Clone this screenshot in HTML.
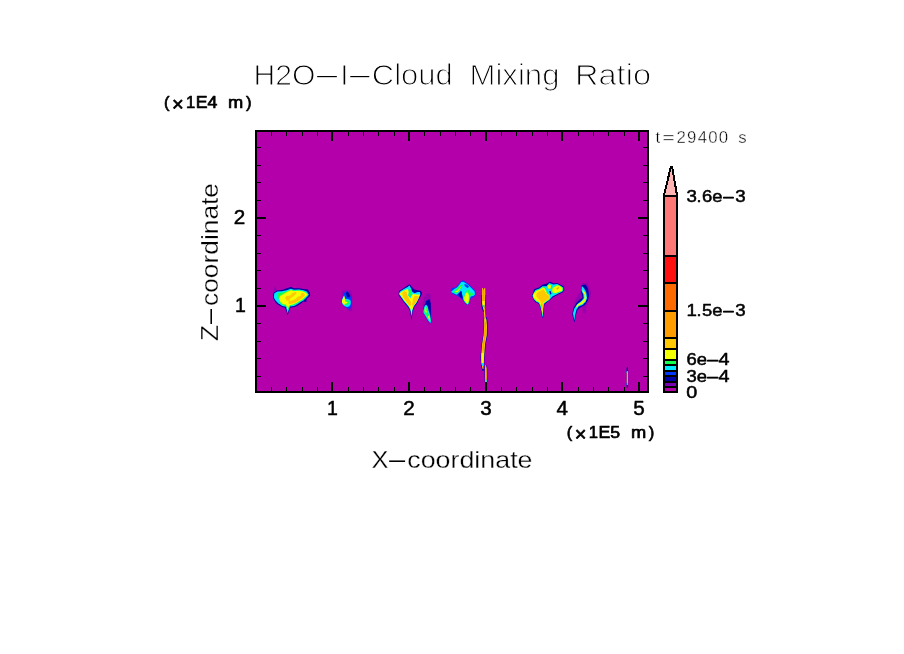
<!DOCTYPE html>
<html><head><meta charset="utf-8"><title>H2O-I-Cloud Mixing Ratio</title>
<style>
html,body{margin:0;padding:0;background:#fff;width:904px;height:654px;overflow:hidden}
svg{display:block;font-family:'Liberation Sans', sans-serif;fill:#000}
text{paint-order:fill stroke;stroke-linejoin:round}
</style></head><body>
<svg width="904" height="654" viewBox="0 0 904 654">
<rect x="0" y="0" width="904" height="654" fill="#fff"/>
<g shape-rendering="crispEdges">
<rect x="255" y="130" width="394" height="263" fill="#000"/>
<rect x="257" y="132" width="390" height="259" fill="#b400aa"/>
</g>
<g id="clouds">
<polygon fill="#7a00b4" fill-opacity="0.5" points="273.3,291.1 274.1,287.2 275.7,287.2 276.8,290.5"/>
<polygon fill="#0000a8" points="273.0,296.6 273.8,292.4 276.8,290.5 281.8,290.0 286.8,288.3 290.7,286.9 294.0,288.3 299.0,288.3 303.4,289.1 307.8,289.4 310.0,292.7 310.0,296.0 306.7,298.8 306.2,302.1 303.4,301.6 301.2,303.2 297.9,305.4 294.5,307.1 290.1,307.7 289.0,311.0 287.6,315.4 286.3,311.0 285.1,307.7 281.8,307.1 277.4,304.3 275.2,302.1 273.5,298.8"/>
<polygon fill="#00eaff" points="273.8,296.6 274.4,293.3 277.4,291.6 281.8,291.3 286.8,290.2 290.7,288.8 294.0,289.7 299.0,289.5 303.4,290.2 306.7,291.6 308.9,294.7 306.2,297.7 303.4,300.5 300.6,302.1 297.3,304.3 294.0,306.0 290.1,306.5 288.7,309.9 287.6,313.2 286.8,309.9 286.0,306.8 282.4,306.0 278.5,303.5 276.0,301.0 274.4,298.8"/>
<polygon fill="#14ff50" points="277.1,296.6 277.4,293.3 281.8,292.4 286.8,291.3 290.7,289.7 294.0,290.5 299.0,290.2 303.4,291.1 306.2,292.4 308.1,294.7 305.6,297.1 302.8,299.9 300.1,301.6 296.8,303.5 293.4,305.2 289.8,305.7 288.5,308.8 287.5,311.5 286.8,308.8 286.3,306.0 282.9,305.2 279.9,302.7 279.1,299.4"/>
<polygon fill="#f4ff00" points="279.1,298.8 279.9,296.0 281.8,294.9 286.8,291.9 290.7,290.2 294.0,291.1 299.0,290.8 303.4,291.6 306.2,293.0 307.5,294.7 305.1,296.9 302.3,299.4 299.5,301.0 296.2,303.0 292.9,304.6 289.6,305.2 288.2,307.7 287.4,309.9 286.8,306.5 285.7,304.6 282.9,304.3 280.4,302.1"/>
<polygon fill="#ffc800" points="285.1,297.7 286.3,296.0 290.1,295.5 292.3,293.0 295.7,291.9 296.8,293.3 294.5,295.5 292.3,297.1 290.1,298.8 289.0,301.0 286.3,300.5"/>
<polygon fill="#ffc800" points="288.5,302.1 289.0,301.0 292.3,300.5 295.7,298.8 297.9,296.6 300.6,296.0 301.2,293.3 303.4,292.7 305.1,294.9 304.0,296.6 301.2,298.8 298.4,301.0 295.1,302.7 291.8,303.8 288.7,304.3"/>
<polygon fill="#7a00b4" fill-opacity="0.5" points="342.1,290.3 350.4,290.3 352.1,294.7 352.1,311.3 349.3,311.3 347.1,309.1 343.3,305.8 341.6,302.5 341.6,296.9 342.1,293.1"/>
<polygon fill="#0038ff" points="344.1,293.1 347.1,291.1 348.8,293.1 350.4,295.8 351.8,299.1 351.5,304.1 350.4,308.0 349.6,310.8 348.2,308.5 346.0,307.4 343.3,305.2 341.9,302.5 342.1,298.6 343.8,295.8"/>
<polygon fill="#0000a8" points="346.0,293.6 347.1,291.4 348.8,293.3 350.2,295.8 349.3,297.5 347.1,296.9"/>
<polygon fill="#00eaff" points="342.1,299.7 344.1,295.3 344.9,298.6 347.1,299.1 349.3,299.7 350.7,300.8 350.7,304.1 349.3,306.3 347.1,306.9 344.9,306.3 343.0,304.7 341.9,302.5"/>
<polygon fill="#14ff50" points="344.9,300.3 348.8,300.3 349.3,303.0 348.2,304.7 346.0,305.2 344.4,304.1"/>
<polygon fill="#f4ff00" points="342.1,300.3 344.1,295.8 344.9,298.6 345.2,301.4 347.7,302.2 347.1,303.3 345.5,303.6 344.6,304.7 342.7,303.6 341.9,301.9"/>
<polygon fill="#0000a8" points="398.6,293.3 399.1,291.1 403.8,288.0 407.7,285.5 409.6,283.9 412.1,287.2 414.3,289.4 417.7,290.2 421.0,291.1 422.1,293.3 421.0,296.0 418.8,299.4 417.1,303.2 414.3,307.1 412.7,311.0 411.7,319.8 411.3,319.8 410.2,311.5 408.3,307.7 406.0,304.9 403.3,301.6 400.5,297.7 398.8,295.5"/>
<polygon fill="#00eaff" points="399.1,293.3 400.0,291.6 404.4,288.8 407.7,286.9 409.4,285.5 411.3,288.8 412.1,291.6 414.3,293.3 417.7,291.9 419.9,291.9 420.4,294.4 418.8,298.3 416.5,302.7 413.8,306.5 412.4,310.4 411.6,316.8 410.5,310.4 408.8,307.1 406.6,304.3 403.8,301.0 401.1,297.1 399.4,294.9"/>
<polygon fill="#f4ff00" points="399.4,293.8 401.1,291.9 404.9,290.0 407.7,289.1 408.8,291.1 408.3,295.5 410.5,298.3 412.1,294.9 413.2,293.8 416.5,294.4 419.9,294.4 418.5,298.3 416.3,302.4 413.5,306.0 412.1,309.9 411.5,314.6 410.6,309.3 409.1,306.5 406.9,303.8 404.1,300.5 401.3,296.6"/>
<polygon fill="#14ff50" points="408.3,289.4 409.9,288.3 411.3,291.1 411.8,293.8 409.9,297.1 408.5,296.0 409.1,292.2"/>
<polygon fill="#ffc800" points="402.2,293.3 404.4,291.1 406.6,292.2 407.7,296.0 409.4,299.4 411.0,302.1 410.7,306.0 408.8,304.9 406.6,302.1 404.4,298.8 402.7,296.0"/>
<polygon fill="#ffc800" points="412.1,304.3 413.2,298.8 414.3,296.0 417.7,296.0 418.8,296.6 417.1,300.5 414.9,303.8 413.0,306.5"/>
<polygon fill="#7a00b4" fill-opacity="0.5" points="423.8,297.2 427.1,293.3 430.4,293.9 431.0,299.4 431.5,313.8 431.0,323.2 428.2,324.3 423.3,313.2 422.7,304.4"/>
<polygon fill="#0000a8" points="426.0,301.1 429.3,299.1 430.7,303.3 431.0,312.1 431.0,323.2 429.3,322.1 427.1,318.8 424.4,314.3 423.0,311.0 424.1,306.6"/>
<polygon fill="#00eaff" points="423.3,311.0 424.4,306.6 426.0,304.4 427.7,306.6 428.8,311.0 430.2,314.9 431.0,321.0 430.4,323.2 428.2,320.4 425.5,316.0 423.5,312.7"/>
<polygon fill="#14ff50" points="424.1,311.0 424.9,307.1 426.3,306.6 427.1,309.4 428.2,313.2 429.9,316.5 430.7,321.0 429.3,319.9 427.1,316.5 424.9,313.8"/>
<polygon fill="#f4ff00" points="424.6,310.5 425.5,307.1 426.3,308.3 426.3,311.0 427.1,312.1 426.0,312.7"/>
<polygon fill="#f4ff00" points="428.0,316.0 429.3,315.4 429.9,318.2 430.2,321.0 429.1,319.3 428.2,317.7"/>
<polygon fill="#0038ff" points="450.8,290.3 451.6,288.0 455.5,287.5 458.8,284.2 461.0,281.1 463.2,280.3 466.0,282.5 468.8,284.2 471.5,286.9 475.4,290.8 475.4,295.2 473.2,297.4 471.0,298.0 469.3,301.9 467.7,305.7 465.4,303.5 462.7,300.2 459.4,296.9 456.0,295.2 452.7,294.1 451.1,292.5"/>
<polygon fill="#00eaff" points="451.3,291.4 454.4,289.1 457.1,287.5 459.4,284.7 461.3,282.0 463.2,281.7 465.4,283.1 468.5,285.3 471.2,288.0 474.6,291.4 475.0,294.4 473.2,296.1 471.0,296.3 469.9,298.5 468.5,303.5 467.4,304.6 464.9,301.9 463.2,299.1 462.1,295.2 461.0,290.8 458.8,293.0 456.6,294.7 453.8,293.3 451.6,292.5"/>
<polygon fill="#0038ff" points="464.3,283.9 466.5,284.4 469.0,286.5 467.7,288.2 466.0,287.0 464.8,285.9"/>
<polygon fill="#0000a8" points="458.3,294.1 461.3,290.8 462.4,295.8 462.7,299.1 459.9,296.9"/>
<polygon fill="#14ff50" points="453.8,291.9 456.6,289.1 459.4,285.8 461.6,284.2 462.7,285.3 461.0,288.0 458.8,291.4 456.6,293.3 454.4,293.3"/>
<polygon fill="#14ff50" points="466.0,291.9 467.7,289.1 469.3,290.3 471.0,293.0 473.2,293.6 473.7,294.7 471.5,295.2 469.9,296.3 467.7,294.1"/>
<polygon fill="#14ff50" points="463.5,297.4 465.4,293.0 467.7,291.4 469.3,295.2 469.3,301.3 467.9,304.4 465.7,302.7 463.8,300.2"/>
<polygon fill="#f4ff00" points="454.9,291.4 457.7,290.5 460.5,286.9 461.3,286.4 459.4,289.7 457.7,291.9 455.2,292.2"/>
<polygon fill="#f4ff00" points="464.3,296.9 466.0,293.0 467.7,292.2 468.8,295.2 468.8,300.8 467.7,304.1 466.0,302.4 464.3,300.2"/>
<polygon fill="#0000a8" points="531.9,295.7 533.3,291.8 534.4,289.1 538.8,287.4 542.7,284.6 547.1,283.5 549.9,281.6 553.8,283.5 557.1,283.0 561.0,284.9 563.7,286.3 564.3,290.2 562.6,292.4 559.3,294.0 556.0,295.7 552.7,297.4 550.4,299.6 547.7,301.8 544.4,304.5 543.8,309.0 543.1,317.8 542.3,317.8 540.8,310.6 539.7,305.7 538.3,303.4 535.5,302.3 533.3,299.6"/>
<polygon fill="#00eaff" points="532.5,295.7 533.8,292.4 535.5,289.9 539.4,288.5 542.7,286.3 546.6,286.3 549.3,283.0 553.2,284.6 557.1,284.1 560.4,285.7 563.2,287.4 563.4,289.9 562.1,291.8 558.7,293.2 555.4,295.1 552.7,296.3 551.0,297.9 549.3,300.1 546.6,301.8 543.8,304.0 543.3,309.0 542.9,316.7 542.4,316.7 541.3,310.6 540.2,305.7 538.8,302.9 536.1,301.5 533.8,299.3"/>
<polygon fill="#14ff50" points="532.7,295.7 534.1,292.5 535.8,290.4 539.7,289.1 542.7,286.8 544.6,287.4 546.3,290.4 547.4,293.2 549.6,294.9 550.2,297.4 549.1,299.8 546.3,301.5 543.7,303.7 543.1,308.4 542.7,316.2 541.8,310.6 540.5,305.7 539.1,302.6 536.3,301.2 534.1,299.0"/>
<polygon fill="#14ff50" points="547.1,285.7 549.3,283.8 551.5,284.9 551.3,288.2 549.3,289.6 547.6,288.5"/>
<polygon fill="#14ff50" points="552.1,288.0 555.4,285.7 557.6,284.6 560.7,286.1 562.9,288.0 562.6,291.0 559.6,292.3 556.0,293.5 552.9,293.5 551.7,291.0"/>
<polygon fill="#f4ff00" points="533.0,295.7 534.4,292.7 536.1,291.0 539.9,289.6 542.7,287.4 544.4,288.0 546.0,290.7 547.1,293.5 549.3,295.1 549.9,297.4 548.8,299.6 546.0,301.2 543.5,303.4 543.0,308.4 542.6,315.1 541.9,310.6 540.8,305.7 539.4,302.3 536.6,301.0 534.4,298.7"/>
<polygon fill="#f4ff00" points="547.7,285.7 549.3,284.4 551.0,285.2 550.7,288.0 549.3,289.1 548.0,288.2"/>
<polygon fill="#f4ff00" points="552.7,288.0 555.4,286.3 557.6,285.2 560.4,286.6 562.3,288.2 562.1,290.7 559.3,291.8 556.0,292.9 553.2,292.9 552.1,290.7"/>
<polygon fill="#ffc800" points="536.3,294.0 538.3,291.8 541.0,290.4 543.3,289.1 544.9,291.3 546.6,294.0 549.3,296.3 549.3,297.9 547.1,300.1 544.4,301.8 542.7,303.2 542.4,306.8 542.3,311.2 541.6,307.9 541.0,304.5 540.5,301.2 538.3,298.5 536.6,297.1"/>
<polygon fill="#ff9c00" points="556.0,289.1 558.2,287.1 559.3,287.7 557.6,289.6"/>
<polygon fill="#ff9c00" points="541.3,304.5 542.4,304.5 542.3,310.6 541.6,309.0"/>
<polygon fill="#0000a8" points="549.1,291.3 550.7,291.0 551.5,294.0 550.4,294.6"/>
<polygon fill="#7a00b4" fill-opacity="0.5" points="581.8,282.9 587.1,282.9 591.0,291.3 590.2,299.0 586.4,305.1 585.6,312.7 583.3,312.7 581.8,306.6 574.1,305.1 575.7,298.2 580.2,292.1"/>
<polygon fill="#0000a8" points="581.4,285.2 585.6,284.4 587.9,288.2 589.0,295.1 587.9,300.5 584.8,305.1 580.2,307.4 577.2,310.4 575.7,315.8 574.5,322.7 573.4,318.8 572.2,314.3 573.4,308.1 576.4,302.8 579.5,299.7 582.5,297.4 581.0,291.3"/>
<polygon fill="#00eaff" points="581.8,285.9 584.1,288.2 586.4,292.8 587.1,298.2 585.6,302.0 582.5,305.1 578.7,306.6 576.4,309.7 575.0,315.8 574.5,320.4 573.7,317.3 573.0,313.5 574.1,308.9 577.2,304.3 581.0,301.2 583.7,298.2 583.3,294.4 581.4,290.5"/>
<polygon fill="#f4ff00" points="582.9,289.8 585.2,292.8 586.4,297.4 585.2,301.2 582.2,303.9 578.7,305.5 576.8,307.4 576.0,306.6 578.0,303.9 581.4,302.0 584.5,298.6 584.5,294.7 582.5,291.3"/>
<polygon fill="#0000a8" points="481.4,295.0 481.0,303.0 482.1,309.0 483.1,312.0 484.1,312.0 484.7,309.0 485.8,303.0 486.0,295.0"/>
<polygon fill="#ffc800" points="482.2,288.0 482.1,296.0 482.1,303.0 482.9,307.0 483.7,310.0 484.7,310.0 484.7,307.0 485.1,303.0 485.3,296.0 485.2,288.0"/>
<polygon fill="#ff9c00" points="482.8,290.0 482.6,300.0 482.9,303.0 484.3,303.0 484.6,300.0 484.6,290.0"/>
<polygon fill="#f4ff00" points="482.4,301.0 482.5,305.0 484.5,305.0 484.6,301.0"/>
<polygon fill="#14ff50" points="482.4,305.0 482.8,307.0 484.2,307.0 484.4,305.0"/>
<polygon fill="#b400aa" points="482.9,288 484.5,288 483.7,290.5"/>
<polygon fill="#0000a8" points="484.0,317.0 483.7,320.0 483.8,326.0 483.1,335.0 481.6,344.0 480.4,357.0 481.1,366.0 482.5,371.0 483.5,371.0 484.1,366.0 484.6,357.0 485.8,344.0 487.5,335.0 487.8,326.0 487.3,320.0 486.4,317.0"/>
<polygon fill="#ffc800" points="483.6,308.0 484.3,317.0 484.1,320.0 484.2,326.0 483.6,335.0 482.1,344.0 481.1,357.0 481.5,364.0 482.6,369.0 483.4,369.0 483.7,364.0 484.1,357.0 485.1,344.0 486.8,335.0 487.0,326.0 486.5,320.0 485.5,317.0 484.6,308.0"/>
<polygon fill="#ff9c00" points="484.7,322.0 484.6,330.0 483.8,338.0 482.6,346.0 482.4,351.0 483.6,351.0 484.2,346.0 485.4,338.0 486.2,330.0 486.1,322.0"/>
<polygon fill="#f4ff00" points="481.5,353.0 481.6,363.0 483.6,363.0 483.9,353.0"/>
<polygon fill="#00eaff" points="481.7,363.0 482.1,366.0 483.3,366.0 483.5,363.0"/>
<polygon fill="#0000a8" points="484.8,365.0 484.5,368.0 484.7,381.0 485.1,383.0 486.9,383.0 487.3,381.0 487.1,368.0 486.4,365.0"/>
<polygon fill="#ffc800" points="485.3,365.0 485.0,368.0 485.2,381.0 485.6,383.0 486.4,383.0 486.8,381.0 486.6,368.0 485.9,365.0"/>
<polygon fill="#ff9c00" points="485.2,369.0 485.4,378.0 486.6,378.0 486.4,369.0"/>
<polygon fill="#00eaff" points="485.3,380.0 485.4,382.0 486.6,382.0 486.7,380.0"/>
<polygon fill="#0000a8" points="626.9,367.0 626.5,370.0 626.5,385.0 626.9,388.0 627.7,388.0 628.1,385.0 628.1,370.0 627.7,367.0"/>
<polygon fill="#ffc800" points="626.7,372.0 626.7,383.0 627.9,383.0 627.9,372.0"/>
<polygon fill="#00eaff" points="626.7,371.0 626.7,373.0 627.9,373.0 627.9,371.0"/>
<polygon fill="#00eaff" points="626.7,383.0 626.7,385.0 627.9,385.0 627.9,383.0"/>
</g>
<g id="ticks" shape-rendering="crispEdges">
<rect x="271" y="132" width="1" height="4" fill="#000"/>
<rect x="271" y="387" width="1" height="4" fill="#000"/>
<rect x="286" y="132" width="1" height="4" fill="#000"/>
<rect x="286" y="387" width="1" height="4" fill="#000"/>
<rect x="302" y="132" width="1" height="4" fill="#000"/>
<rect x="302" y="387" width="1" height="4" fill="#000"/>
<rect x="317" y="132" width="1" height="4" fill="#000"/>
<rect x="317" y="387" width="1" height="4" fill="#000"/>
<rect x="331" y="132" width="2" height="9" fill="#000"/>
<rect x="331" y="382" width="2" height="9" fill="#000"/>
<rect x="348" y="132" width="1" height="4" fill="#000"/>
<rect x="348" y="387" width="1" height="4" fill="#000"/>
<rect x="363" y="132" width="1" height="4" fill="#000"/>
<rect x="363" y="387" width="1" height="4" fill="#000"/>
<rect x="378" y="132" width="1" height="4" fill="#000"/>
<rect x="378" y="387" width="1" height="4" fill="#000"/>
<rect x="394" y="132" width="1" height="4" fill="#000"/>
<rect x="394" y="387" width="1" height="4" fill="#000"/>
<rect x="408" y="132" width="2" height="9" fill="#000"/>
<rect x="408" y="382" width="2" height="9" fill="#000"/>
<rect x="424" y="132" width="1" height="4" fill="#000"/>
<rect x="424" y="387" width="1" height="4" fill="#000"/>
<rect x="440" y="132" width="1" height="4" fill="#000"/>
<rect x="440" y="387" width="1" height="4" fill="#000"/>
<rect x="455" y="132" width="1" height="4" fill="#000"/>
<rect x="455" y="387" width="1" height="4" fill="#000"/>
<rect x="470" y="132" width="1" height="4" fill="#000"/>
<rect x="470" y="387" width="1" height="4" fill="#000"/>
<rect x="485" y="132" width="2" height="9" fill="#000"/>
<rect x="485" y="382" width="2" height="9" fill="#000"/>
<rect x="501" y="132" width="1" height="4" fill="#000"/>
<rect x="501" y="387" width="1" height="4" fill="#000"/>
<rect x="516" y="132" width="1" height="4" fill="#000"/>
<rect x="516" y="387" width="1" height="4" fill="#000"/>
<rect x="532" y="132" width="1" height="4" fill="#000"/>
<rect x="532" y="387" width="1" height="4" fill="#000"/>
<rect x="547" y="132" width="1" height="4" fill="#000"/>
<rect x="547" y="387" width="1" height="4" fill="#000"/>
<rect x="561" y="132" width="2" height="9" fill="#000"/>
<rect x="561" y="382" width="2" height="9" fill="#000"/>
<rect x="578" y="132" width="1" height="4" fill="#000"/>
<rect x="578" y="387" width="1" height="4" fill="#000"/>
<rect x="593" y="132" width="1" height="4" fill="#000"/>
<rect x="593" y="387" width="1" height="4" fill="#000"/>
<rect x="608" y="132" width="1" height="4" fill="#000"/>
<rect x="608" y="387" width="1" height="4" fill="#000"/>
<rect x="624" y="132" width="1" height="4" fill="#000"/>
<rect x="624" y="387" width="1" height="4" fill="#000"/>
<rect x="638" y="132" width="2" height="9" fill="#000"/>
<rect x="638" y="382" width="2" height="9" fill="#000"/>
<rect x="257" y="147" width="4" height="1" fill="#000"/>
<rect x="643" y="147" width="4" height="1" fill="#000"/>
<rect x="257" y="165" width="4" height="1" fill="#000"/>
<rect x="643" y="165" width="4" height="1" fill="#000"/>
<rect x="257" y="182" width="4" height="1" fill="#000"/>
<rect x="643" y="182" width="4" height="1" fill="#000"/>
<rect x="257" y="200" width="4" height="1" fill="#000"/>
<rect x="643" y="200" width="4" height="1" fill="#000"/>
<rect x="257" y="235" width="4" height="1" fill="#000"/>
<rect x="643" y="235" width="4" height="1" fill="#000"/>
<rect x="257" y="253" width="4" height="1" fill="#000"/>
<rect x="643" y="253" width="4" height="1" fill="#000"/>
<rect x="257" y="270" width="4" height="1" fill="#000"/>
<rect x="643" y="270" width="4" height="1" fill="#000"/>
<rect x="257" y="288" width="4" height="1" fill="#000"/>
<rect x="643" y="288" width="4" height="1" fill="#000"/>
<rect x="257" y="323" width="4" height="1" fill="#000"/>
<rect x="643" y="323" width="4" height="1" fill="#000"/>
<rect x="257" y="341" width="4" height="1" fill="#000"/>
<rect x="643" y="341" width="4" height="1" fill="#000"/>
<rect x="257" y="358" width="4" height="1" fill="#000"/>
<rect x="643" y="358" width="4" height="1" fill="#000"/>
<rect x="257" y="376" width="4" height="1" fill="#000"/>
<rect x="643" y="376" width="4" height="1" fill="#000"/>
<rect x="257" y="217" width="9" height="2" fill="#000"/>
<rect x="638" y="217" width="9" height="2" fill="#000"/>
<rect x="257" y="305" width="9" height="2" fill="#000"/>
<rect x="638" y="305" width="9" height="2" fill="#000"/>
</g>
<g id="colorbar" shape-rendering="crispEdges">
<rect x="663" y="195" width="15" height="198" fill="#000"/>
<rect x="665" y="388" width="11" height="3" fill="#b400aa"/>
<rect x="665" y="383" width="11" height="3" fill="#7a00b4"/>
<rect x="665" y="377" width="11" height="4" fill="#0000a8"/>
<rect x="665" y="372" width="11" height="3" fill="#0038ff"/>
<rect x="665" y="366" width="11" height="4" fill="#00eaff"/>
<rect x="665" y="361" width="11" height="3" fill="#14ff50"/>
<rect x="665" y="350" width="11" height="9" fill="#f4ff00"/>
<rect x="665" y="339" width="11" height="9" fill="#ffc800"/>
<rect x="665" y="312" width="11" height="25" fill="#ff9c00"/>
<rect x="665" y="284" width="11" height="26" fill="#ff6a00"/>
<rect x="665" y="257" width="11" height="25" fill="#ff1010"/>
<rect x="665" y="197" width="11" height="58" fill="#ff7878"/>
<polygon points="663.9,196 677.1,196 672.2,166.8 670.8,166.8" fill="#ffb4b4" stroke="#000" stroke-width="2" stroke-linejoin="miter"/>
</g>
<g id="labels">
<text y="85" font-size="30" stroke="#fff" stroke-width="1.1" ><tspan x="253.5" textLength="62" lengthAdjust="spacingAndGlyphs">H2O</tspan><tspan x="313.6" dy="-4" font-size="14" textLength="27" lengthAdjust="spacingAndGlyphs" stroke="none">-</tspan><tspan x="340.2" dy="4">I</tspan><tspan x="346.7" dy="-4" font-size="14" textLength="26" lengthAdjust="spacingAndGlyphs" stroke="none">-</tspan><tspan x="371.8" textLength="81" lengthAdjust="spacingAndGlyphs" dy="4">Cloud</tspan><tspan x="460"> </tspan><tspan x="469.5" textLength="90" lengthAdjust="spacingAndGlyphs">Mixing</tspan><tspan x="565"> </tspan><tspan x="575" textLength="76" lengthAdjust="spacingAndGlyphs">Ratio</tspan></text>
<text y="108.2" font-size="16.6" stroke="#000" stroke-width="0.7" ><tspan x="164">(</tspan><tspan x="172" font-size="20" dy="2.8">×</tspan><tspan x="186" dy="-2.8">1</tspan><tspan x="195.7" textLength="26.6" lengthAdjust="spacingAndGlyphs">E4 </tspan><tspan x="228.1" textLength="15.2" lengthAdjust="spacingAndGlyphs">m</tspan><tspan x="246">)</tspan></text>
<text y="143" font-size="16.8" stroke="#fff" stroke-width="0.4" ><tspan x="655.6">t</tspan><tspan x="662.2" textLength="12.6" lengthAdjust="spacingAndGlyphs">=</tspan><tspan x="676.5" textLength="57.6" lengthAdjust="spacing">29400 </tspan><tspan x="738.2">s</tspan></text>
<text y="224" font-size="19.5" stroke="#000" stroke-width="0.5" ><tspan x="233.8" textLength="11.5" lengthAdjust="spacingAndGlyphs">2</tspan></text>
<text y="312" font-size="19.5" stroke="#000" stroke-width="0.5" ><tspan x="234.9">1</tspan></text>
<text y="415" font-size="19.5" stroke="#000" stroke-width="0.5" ><tspan x="403.2" textLength="11.5" lengthAdjust="spacingAndGlyphs">2</tspan></text>
<text y="415" font-size="19.5" stroke="#000" stroke-width="0.5" ><tspan x="480.2" textLength="11.5" lengthAdjust="spacingAndGlyphs">3</tspan></text>
<text y="415" font-size="19.5" stroke="#000" stroke-width="0.5" ><tspan x="556.6" textLength="11.5" lengthAdjust="spacingAndGlyphs">4</tspan></text>
<text y="415" font-size="19.5" stroke="#000" stroke-width="0.5" ><tspan x="633.2" textLength="11.5" lengthAdjust="spacingAndGlyphs">5</tspan></text>
<text y="415" font-size="19.5" stroke="#000" stroke-width="0.5" ><tspan x="327">1</tspan></text>
<text y="437.7" font-size="16.6" stroke="#000" stroke-width="0.7" ><tspan x="566.8">(</tspan><tspan x="574.8" font-size="20" dy="2.8">×</tspan><tspan x="588.8" dy="-2.8">1</tspan><tspan x="598.5" textLength="26.6" lengthAdjust="spacingAndGlyphs">E5 </tspan><tspan x="630.9" textLength="15.2" lengthAdjust="spacingAndGlyphs">m</tspan><tspan x="648.8">)</tspan></text>
<text y="468.4" font-size="23.6" stroke="#fff" stroke-width="0.3" ><tspan x="371.5" textLength="17" lengthAdjust="spacingAndGlyphs">X</tspan><tspan x="386.3" dy="-1.8" font-size="20" textLength="21.8" lengthAdjust="spacingAndGlyphs" stroke="none">-</tspan><tspan x="407.3" textLength="125.2" lengthAdjust="spacingAndGlyphs" dy="1.8">coordinate</tspan></text>
<g transform="translate(218.4,341) rotate(-90)"><text y="0" font-size="23.6" stroke="#fff" stroke-width="0.3"><tspan x="0" textLength="16" lengthAdjust="spacingAndGlyphs">Z</tspan><tspan x="14.3" dy="-1.8" font-size="20" textLength="20.6" lengthAdjust="spacingAndGlyphs" stroke="none">-</tspan><tspan x="35" textLength="123" lengthAdjust="spacingAndGlyphs" dy="1.8">coordinate</tspan></text></g>
<text y="201.7" font-size="16.8" stroke="#000" stroke-width="0.5" ><tspan x="686.6" textLength="10.4" lengthAdjust="spacingAndGlyphs">3</tspan><tspan x="696.6" textLength="5" lengthAdjust="spacingAndGlyphs">.</tspan><tspan x="702" textLength="20.5" lengthAdjust="spacingAndGlyphs">6e</tspan><tspan x="721.8" textLength="13.4" lengthAdjust="spacingAndGlyphs">-</tspan><tspan x="735.3" textLength="10.4" lengthAdjust="spacingAndGlyphs">3</tspan></text>
<text y="316" font-size="16.8" stroke="#000" stroke-width="0.5" ><tspan x="686.6" textLength="10.4" lengthAdjust="spacingAndGlyphs">1</tspan><tspan x="696.6" textLength="5" lengthAdjust="spacingAndGlyphs">.</tspan><tspan x="702" textLength="20.5" lengthAdjust="spacingAndGlyphs">5e</tspan><tspan x="721.8" textLength="13.4" lengthAdjust="spacingAndGlyphs">-</tspan><tspan x="735.3" textLength="10.4" lengthAdjust="spacingAndGlyphs">3</tspan></text>
<text y="365" font-size="16.8" stroke="#000" stroke-width="0.5" ><tspan x="686.4" textLength="20.5" lengthAdjust="spacingAndGlyphs">6e</tspan><tspan x="705.7" textLength="14" lengthAdjust="spacingAndGlyphs">-</tspan><tspan x="718.4" textLength="11" lengthAdjust="spacingAndGlyphs">4</tspan></text>
<text y="381.5" font-size="16.8" stroke="#000" stroke-width="0.5" ><tspan x="686.4" textLength="20.5" lengthAdjust="spacingAndGlyphs">3e</tspan><tspan x="705.7" textLength="14" lengthAdjust="spacingAndGlyphs">-</tspan><tspan x="718.4" textLength="11" lengthAdjust="spacingAndGlyphs">4</tspan></text>
<text y="397.9" font-size="16.8" stroke="#000" stroke-width="0.5" ><tspan x="686.2" textLength="11" lengthAdjust="spacingAndGlyphs">0</tspan></text>
</g>
</svg>
</body></html>
